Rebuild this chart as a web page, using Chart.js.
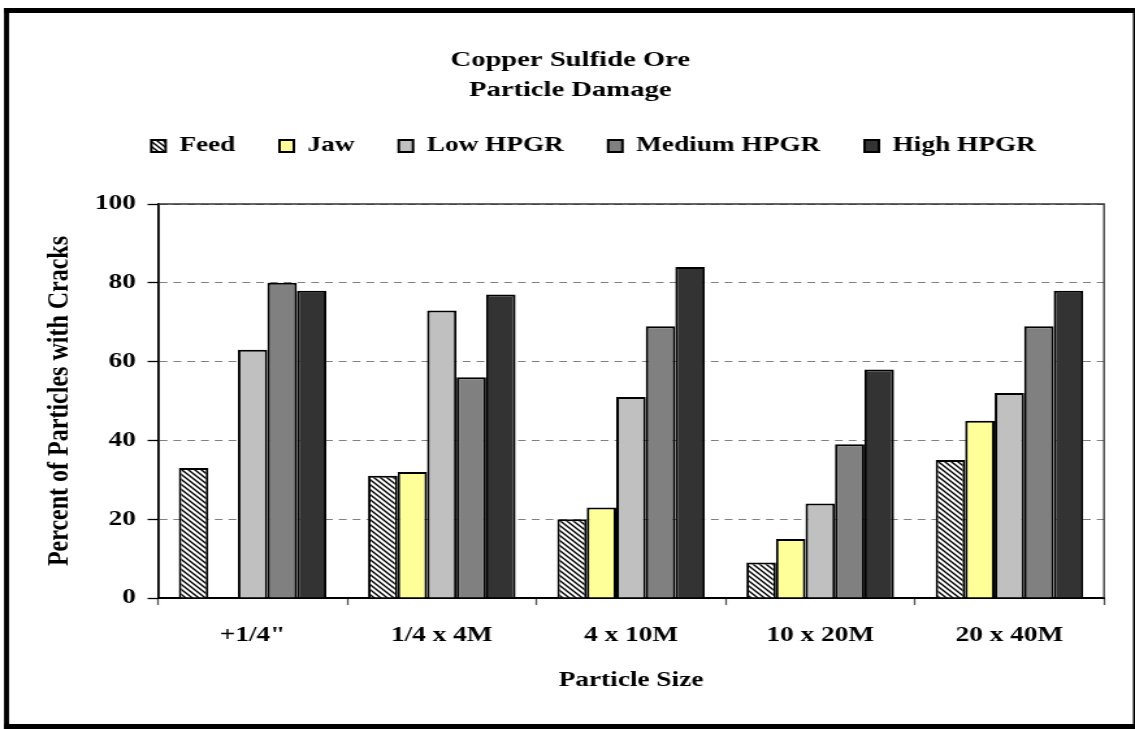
<!DOCTYPE html>
<html><head><meta charset="utf-8">
<style>html,body{margin:0;padding:0;background:#fff;overflow:hidden}</style>
<script src="https://cdn.jsdelivr.net/npm/chart.js@4.4.0/dist/chart.umd.min.js"></script>
</head><body>
<canvas id="c" width="873" height="729" style="display:block;width:1135px;height:729px"></canvas>
<script>
// ---- data ----
const categories = ['+1/4"', '1/4 x 4M', '4 x 10M', '10 x 20M', '20 x 40M'];
const seriesNames = ['Feed', 'Jaw', 'Low HPGR', 'Medium HPGR', 'High HPGR'];
const feed = [33, 31, 20, 9, 35];
const jaw = [null, 32, 23, 15, 45];
const lowHPGR = [63, 73, 51, 24, 52];
const mediumHPGR = [80, 56, 69, 39, 69];
const highHPGR = [78, 77, 84, 58, 78];
const yTicks = [0, 20, 40, 60, 80, 100];
const titleLines = ['Copper Sulfide Ore', 'Particle Damage'];
const xTitle = 'Particle Size';
const yTitle = 'Percent of Particles with Cracks';

const FONT = '"Liberation Serif", "Times New Roman", serif';
const SX = 1135 / 873; // horizontal stretch of the canvas

const canvas = document.getElementById('c');
const ctx = canvas.getContext('2d');

function hatch() {
  const c = document.createElement('canvas');
  c.width = 5; c.height = 5;
  const x = c.getContext('2d');
  x.fillStyle = '#fff'; x.fillRect(0, 0, 5, 5);
  x.strokeStyle = '#000'; x.lineWidth = 1.4;
  x.beginPath();
  x.moveTo(-1, -1); x.lineTo(6, 6);
  x.moveTo(-1, 4); x.lineTo(1, 6);
  x.moveTo(4, -1); x.lineTo(6, 1);
  x.stroke();
  return ctx.createPattern(c, 'repeat');
}

const colors = [hatch(), '#FFFF99', '#C0C0C0', '#808080', '#333333'];
const values = [feed, jaw, lowHPGR, mediumHPGR, highHPGR];

const datasets = seriesNames.map((n, i) => ({
  label: n,
  data: values[i],
  backgroundColor: colors[i],
  borderColor: '#000',
  borderWidth: 2,
  categoryPercentage: 0.78,
  barPercentage: 1.0
}));

const LEG_EXTRA = 34;
const layoutFix = {
  id: 'layoutFix',
  beforeLayout(chart) {
    const lg = chart.legend;
    if (lg && !lg._patched) {
      const f = lg.fit;
      lg.fit = function () { f.call(this); this.height += LEG_EXTRA; };
      lg._patched = true;
    }
  },
  afterLayout(chart) {
    const lg = chart.legend;
    lg.left += 32; lg.right += 32; lg.top -= 3.5; lg.bottom -= 3.5;
    const t = chart.titleBlock;
    t.left += 14; t.right += 14;
  },
  afterDraw(chart) {
    const c = chart.ctx, a = chart.chartArea;
    c.save();
    c.strokeStyle = '#333'; c.lineWidth = 1.3;
    c.beginPath();
    c.moveTo(a.left, a.top); c.lineTo(a.right, a.top); c.lineTo(a.right, a.bottom);
    c.stroke();
    c.fillStyle = '#000';
    c.fillRect(4 / SX, 8, 5 / SX, 721);
    c.fillRect(4 / SX, 8, 873, 5);
    c.fillRect(4 / SX, 724, 873, 5);
    c.fillRect(1133 / SX, 8, 5, 721);
    c.restore();
  }
};

new Chart(ctx, {
  type: 'bar',
  data: { labels: categories, datasets },
  plugins: [layoutFix],
  options: {
    responsive: false,
    devicePixelRatio: 1,
    animation: false,
    layout: { padding: { left: 0, right: 873 - 1104 / SX, top: 0, bottom: 0 } },
    plugins: {
      tooltip: { enabled: false },
      title: {
        display: true,
        text: titleLines,
        color: '#000',
        font: { family: FONT, size: 22, weight: 'bold', lineHeight: '30px' },
        padding: { top: 45, bottom: 0 }
      },
      legend: {
        display: true,
        position: 'top',
        labels: {
          color: '#000',
          font: { family: FONT, size: 21, weight: 'bold' },
          boxWidth: 11,
          boxHeight: 12,
          padding: 34
        }
      }
    },
    scales: {
      x: {
        grid: {
          display: true, drawOnChartArea: false, drawTicks: true,
          tickLength: 7, tickColor: '#555', tickWidth: 1.3, offset: true
        },
        border: { display: true, color: '#000', width: 2 },
        ticks: {
          color: '#000', font: { family: FONT, size: 21, weight: 'bold' },
          padding: 18, maxRotation: 0, autoSkip: false
        },
        title: {
          display: true, text: xTitle, color: '#000',
          font: { family: FONT, size: 21, weight: 'bold' },
          padding: { top: 0, bottom: 36 }
        },
        afterFit(s) { s.height = 131; }
      },
      y: {
        min: 0, max: 100,
        afterBuildTicks(s) { s.ticks = yTicks.map(v => ({ value: v })); },
        grid: {
          color: '#808080', lineWidth: 1, drawTicks: true, tickLength: 8,
          tickColor: '#000', tickWidth: 1.3, tickBorderDash: []
        },
        border: { display: true, color: '#000', width: 1.8, dash: [6, 4.6] },
        ticks: {
          color: '#000', font: { family: FONT, size: 21, weight: 'bold' }, padding: 9
        },
        title: {
          display: true, text: yTitle, color: '#000',
          font: { family: FONT, size: 24, weight: 'bold' },
          padding: { top: 31.6, bottom: 0 }
        },
        afterFit(s) { s.width = 158 / SX; }
      }
    }
  }
});
</script>
</body></html>
